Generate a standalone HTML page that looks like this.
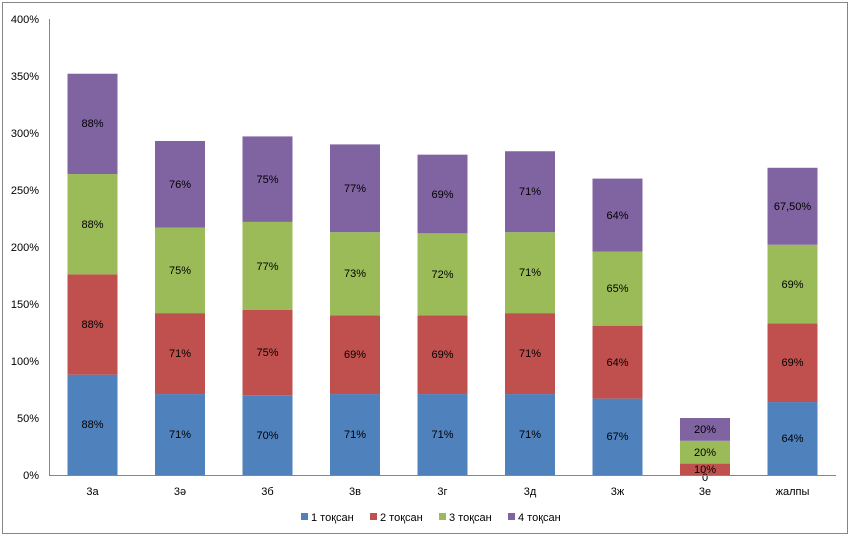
<!DOCTYPE html>
<html><head><meta charset="utf-8"><style>
body{margin:0;background:#fff;}
svg{display:block;font-family:"Liberation Sans",sans-serif;}
</style></head><body>
<svg width="850" height="536" viewBox="0 0 850 536" xmlns="http://www.w3.org/2000/svg">
<rect x="2.5" y="2.5" width="845" height="531" fill="#fff" stroke="#868686"/>
<g font-size="11" fill="#000" text-anchor="end">
<text x="39" y="479">0%</text>
<text x="39" y="422">50%</text>
<text x="39" y="365">100%</text>
<text x="39" y="308">150%</text>
<text x="39" y="251">200%</text>
<text x="39" y="194">250%</text>
<text x="39" y="137">300%</text>
<text x="39" y="80">350%</text>
<text x="39" y="23">400%</text>
</g>
<g>
<rect x="67.5" y="374.68" width="50" height="100.32" fill="#4F81BD"/>
<rect x="67.5" y="274.36" width="50" height="100.32" fill="#C0504D"/>
<rect x="67.5" y="174.04" width="50" height="100.32" fill="#9BBB59"/>
<rect x="67.5" y="73.72" width="50" height="100.32" fill="#8064A2"/>

<rect x="155" y="394.06" width="50" height="80.94" fill="#4F81BD"/>
<rect x="155" y="313.12" width="50" height="80.94" fill="#C0504D"/>
<rect x="155" y="227.62" width="50" height="85.5" fill="#9BBB59"/>
<rect x="155" y="140.98" width="50" height="86.64" fill="#8064A2"/>

<rect x="242.5" y="395.2" width="50" height="79.8" fill="#4F81BD"/>
<rect x="242.5" y="309.7" width="50" height="85.5" fill="#C0504D"/>
<rect x="242.5" y="221.92" width="50" height="87.78" fill="#9BBB59"/>
<rect x="242.5" y="136.42" width="50" height="85.5" fill="#8064A2"/>

<rect x="330" y="394.06" width="50" height="80.94" fill="#4F81BD"/>
<rect x="330" y="315.4" width="50" height="78.66" fill="#C0504D"/>
<rect x="330" y="232.18" width="50" height="83.22" fill="#9BBB59"/>
<rect x="330" y="144.4" width="50" height="87.78" fill="#8064A2"/>

<rect x="417.5" y="394.06" width="50" height="80.94" fill="#4F81BD"/>
<rect x="417.5" y="315.4" width="50" height="78.66" fill="#C0504D"/>
<rect x="417.5" y="233.32" width="50" height="82.08" fill="#9BBB59"/>
<rect x="417.5" y="154.66" width="50" height="78.66" fill="#8064A2"/>

<rect x="505" y="394.06" width="50" height="80.94" fill="#4F81BD"/>
<rect x="505" y="313.12" width="50" height="80.94" fill="#C0504D"/>
<rect x="505" y="232.18" width="50" height="80.94" fill="#9BBB59"/>
<rect x="505" y="151.24" width="50" height="80.94" fill="#8064A2"/>

<rect x="592.5" y="398.62" width="50" height="76.38" fill="#4F81BD"/>
<rect x="592.5" y="325.66" width="50" height="72.96" fill="#C0504D"/>
<rect x="592.5" y="251.56" width="50" height="74.1" fill="#9BBB59"/>
<rect x="592.5" y="178.6" width="50" height="72.96" fill="#8064A2"/>

<rect x="680" y="463.6" width="50" height="11.4" fill="#C0504D"/>
<rect x="680" y="440.8" width="50" height="22.8" fill="#9BBB59"/>
<rect x="680" y="418" width="50" height="22.8" fill="#8064A2"/>

<rect x="767.5" y="402.04" width="50" height="72.96" fill="#4F81BD"/>
<rect x="767.5" y="323.38" width="50" height="78.66" fill="#C0504D"/>
<rect x="767.5" y="244.72" width="50" height="78.66" fill="#9BBB59"/>
<rect x="767.5" y="167.77" width="50" height="76.95" fill="#8064A2"/>
</g>
<g font-size="11" text-anchor="middle" fill="#000">
<text x="92.5" y="428">88%</text><text x="92.5" y="328">88%</text><text x="92.5" y="228">88%</text><text x="92.5" y="127">88%</text>
<text x="180" y="438">71%</text><text x="180" y="357">71%</text><text x="180" y="274">75%</text><text x="180" y="188">76%</text>
<text x="267.5" y="439">70%</text><text x="267.5" y="356">75%</text><text x="267.5" y="270">77%</text><text x="267.5" y="183">75%</text>
<text x="355" y="438">71%</text><text x="355" y="358">69%</text><text x="355" y="277">73%</text><text x="355" y="192">77%</text>
<text x="442.5" y="438">71%</text><text x="442.5" y="358">69%</text><text x="442.5" y="278">72%</text><text x="442.5" y="198">69%</text>
<text x="530" y="438">71%</text><text x="530" y="357">71%</text><text x="530" y="276">71%</text><text x="530" y="195">71%</text>
<text x="617.5" y="440">67%</text><text x="617.5" y="366">64%</text><text x="617.5" y="292">65%</text><text x="617.5" y="219">64%</text>
<text x="705" y="481">0</text><text x="705" y="473">10%</text><text x="705" y="456">20%</text><text x="705" y="433">20%</text>
<text x="792.5" y="442">64%</text><text x="792.5" y="366">69%</text><text x="792.5" y="288">69%</text><text x="792.5" y="210">67,50%</text>
<text x="92.5" y="495">3а</text><text x="180" y="495">3ә</text><text x="267.5" y="495">3б</text><text x="355" y="495">3в</text><text x="442.5" y="495">3г</text><text x="530" y="495">3д</text><text x="617.5" y="495">3ж</text><text x="705" y="495">3е</text><text x="792.5" y="495">жалпы</text>
</g>
<line x1="49.5" y1="19" x2="49.5" y2="475" stroke="#868686"/>
<line x1="49" y1="475.5" x2="836" y2="475.5" stroke="#868686"/>
<g font-size="11" text-anchor="start">
<rect x="301" y="513" width="7" height="7" fill="#4F81BD"/><text x="311" y="521">1 тоқсан</text>
<rect x="370" y="513" width="7" height="7" fill="#C0504D"/><text x="380" y="521">2 тоқсан</text>
<rect x="439" y="513" width="7" height="7" fill="#9BBB59"/><text x="449" y="521">3 тоқсан</text>
<rect x="508" y="513" width="7" height="7" fill="#8064A2"/><text x="518" y="521">4 тоқсан</text>
</g>
</svg>
</body></html>
